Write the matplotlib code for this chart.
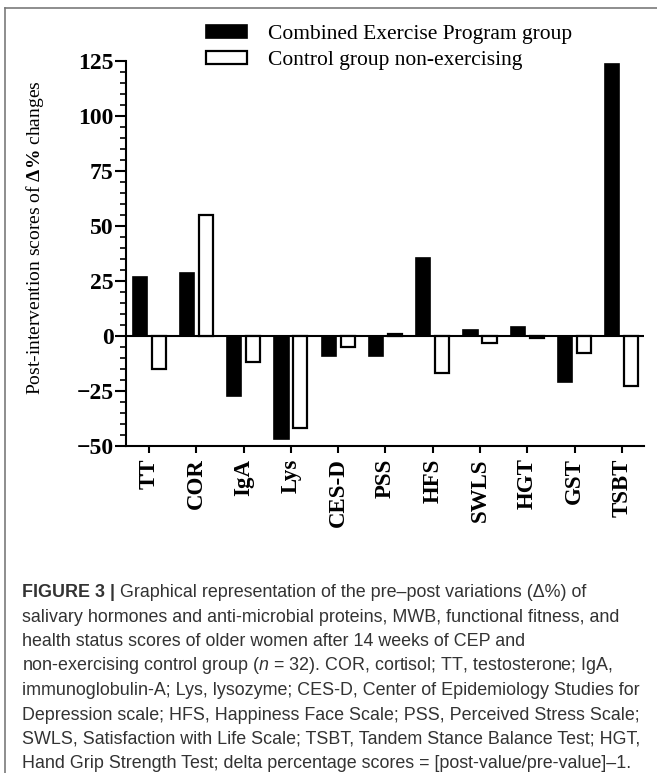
import numpy as np
import matplotlib
matplotlib.use("Agg")
import matplotlib.pyplot as plt
from matplotlib.lines import Line2D

# values (delta % changes)
categories = ["TT", "COR", "IgA", "Lys", "CES-D", "PSS", "HFS", "SWLS", "HGT", "GST", "TSBT"]
cep_group = [27, 28.6, -27.4, -47, -9.3, -9.3, 35.4, 2.7, 4.2, -21, 123.5]
control_group = [-15, 55, -11.9, -41.7, -4.8, 0.9, -16.6, -3.3, -1.0, -7.8, -22.9]
series_labels = ["Combined Exercise Program group", "Control group non-exercising"]
y_ticks = [-50, -25, 0, 25, 50, 75, 100, 125]

caption_lines = [
	"salivary hormones and anti-microbial proteins, MWB, functional fitness, and",
	"health status scores of older women after 14 weeks of CEP and",
	"non-exercising control group ($n$ = 32). COR, cortisol; TT, testosterone; IgA,",
	"immunoglobulin-A; Lys, lysozyme; CES-D, Center of Epidemiology Studies for",
	"Depression scale; HFS, Happiness Face Scale; PSS, Perceived Stress Scale;",
	"SWLS, Satisfaction with Life Scale; TSBT, Tandem Stance Balance Test; HGT,",
	"Hand Grip Strength Test; delta percentage scores = [post-value/pre-value]\u20131.",
]

plt.rcParams["mathtext.fontset"] = "custom"
plt.rcParams["mathtext.it"] = "Liberation Sans:italic"
plt.rcParams["mathtext.rm"] = "Liberation Sans"
plt.rcParams["mathtext.bf"] = "Liberation Serif:bold"

W, H = 657, 773
fig = plt.figure(figsize=(W / 100, H / 100), dpi=100)

# axes box in pixel coords of the reference
left, right, top, bottom = 126, 644, 61, 446
ax = fig.add_axes([left / W, 1 - bottom / H, (right - left) / W, (bottom - top) / H])

x = np.arange(len(categories))
width = 0.3
off = 0.2
b1 = ax.bar(x - off, cep_group, width, color="black", edgecolor="black", linewidth=1.2)
b2 = ax.bar(x + off, control_group, width, color="white", edgecolor="black", linewidth=1.6)

ax.axhline(0, color="black", linewidth=1.5, zorder=0.5)

ax.set_xlim(-0.49, 10.47)
ax.set_ylim(-50, 125)
ax.set_yticks(y_ticks)
ax.set_yticks(np.arange(-50, 126, 5), minor=True)
ax.set_xticks(x)
ax.set_xticklabels(categories, rotation=90, fontfamily="Liberation Serif", fontweight="bold", fontsize=16.5)
for lab in ax.get_yticklabels():
	lab.set_fontfamily("Liberation Serif")
	lab.set_fontweight("bold")
	lab.set_fontsize(17)

for s in ["top", "right"]:
	ax.spines[s].set_visible(False)
for s in ["left", "bottom"]:
	ax.spines[s].set_linewidth(1.5)

ax.tick_params(axis="y", which="major", length=8, width=1.5, pad=1)
ax.tick_params(axis="y", which="minor", length=4, width=1.2)
ax.tick_params(axis="x", which="major", length=5, width=1.5, pad=4)

ax.set_ylabel(r"Post-intervention scores of $\mathbf{\Delta\%}$ changes",
			  fontfamily="Liberation Serif", fontsize=14)
ax.yaxis.set_label_coords((46 - left) / (right - left), (bottom - 238) / (bottom - top))

leg = ax.legend([b1, b2], series_labels, loc="upper left", bbox_to_anchor=(206 / W, 1 - 25 / H),
				bbox_transform=fig.transFigure, frameon=False, borderpad=0, borderaxespad=0,
				handlelength=1.9, handleheight=0.55, handletextpad=1.0, labelspacing=0.3,
				prop={"family": "Liberation Serif", "size": 15.5})

# caption
cap_color = "#333333"
cap_x = 22 / W
base0 = 597
step = 24.5
cap_size = 12.9
t1 = fig.text(cap_x, 1 - base0 / H, "FIGURE 3 |", fontfamily="Liberation Sans", fontweight="bold",
			  fontsize=cap_size, color=cap_color, va="baseline")
ax.annotate(" Graphical representation of the pre\u2013post variations (\u0394%) of", xy=(1, 0), xycoords=t1,
			va="bottom", ha="left", fontfamily="Liberation Sans", fontsize=cap_size, color=cap_color,
			annotation_clip=False)
for i, line in enumerate(caption_lines):
	fig.text(cap_x, 1 - (base0 + step * (i + 1)) / H, line, fontfamily="Liberation Sans",
			 fontsize=cap_size, color=cap_color, va="baseline")

# frame lines (top and left)
fig.add_artist(Line2D([5 / W, 1], [1 - 8 / H, 1 - 8 / H], transform=fig.transFigure, color="#7a7a7a", linewidth=1.2))
fig.add_artist(Line2D([5 / W, 5 / W], [0, 1 - 8 / H], transform=fig.transFigure, color="#7a7a7a", linewidth=1.2))

fig.savefig("out.png", dpi=100)
